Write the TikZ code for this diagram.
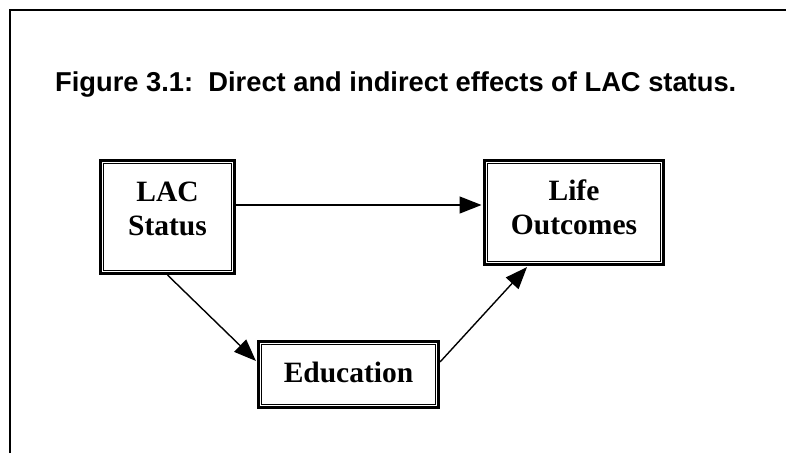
\documentclass[tikz,border=0pt]{standalone}
\usepackage{fontspec}
\setmainfont{Liberation Serif}
\setsansfont{Liberation Sans}
\usetikzlibrary{arrows.meta}

\begin{document}
\begin{tikzpicture}[x=1pt,y=-1pt,
    box/.style={draw, line width=3pt, inner sep=0pt},
    boxtext/.style={align=center, inner sep=0pt,
        font=\bfseries\fontsize{29.5}{33.5}\selectfont},
    arr/.style={line width=1.4pt, -{Triangle[length=22pt,width=17pt]}, shorten >=1.5pt}
]
\useasboundingbox (0,0) rectangle (786,453);

% Frame and caption
\draw[line width=2pt] (10,453) -- (10,10) -- (786,10);
\node[anchor=base west, inner sep=0pt, font=\sffamily\bfseries\fontsize{27.3}{32}\selectfont]
    (TITLE) at (55,91) {Figure 3.1:\ \ Direct and indirect effects of LAC status.};

% Boxes
\node[box, minimum width=134pt, minimum height=113pt] (LAC) at (167.5,217) {};
\node[box, minimum width=179pt, minimum height=104pt] (LIFE) at (574,212.5) {};
\node[box, minimum width=180pt, minimum height=66pt] (EDU) at (348.5,374.5) {};
\foreach \n in {LAC,LIFE,EDU}
    \draw[line width=1.5pt] ([shift={(4.5pt,-4.5pt)}]\n.north west) rectangle ([shift={(-4.5pt,4.5pt)}]\n.south east);

% Box texts
\node[boxtext] (LACtext) at ([yshift=8pt]LAC.center) {LAC\\Status};
\node[boxtext] (LIFEtext) at ([yshift=5pt]LIFE.center) {Life\\Outcomes};
\node[boxtext] (EDUtext) at ([yshift=2pt]EDU.center) {Education};

% Arrows
\coordinate (ROW) at (0,205);
\draw[arr] (LAC.east |- ROW) -- (LIFE.west |- ROW);
\draw[arr] (LAC.south) -- ([yshift=12.5pt]EDU.west);
\draw[arr] ([yshift=12.5pt]EDU.east) -- ([xshift=-46pt]LIFE.south);
\end{tikzpicture}
\end{document}
